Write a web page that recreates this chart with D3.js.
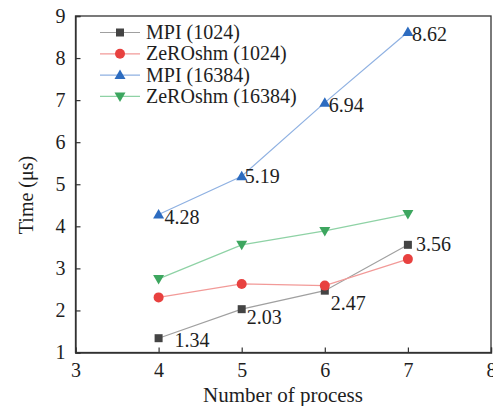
<!DOCTYPE html>
<html>
<head>
<meta charset="utf-8">
<script src="https://cdn.jsdelivr.net/npm/d3@7"></script>
<style>
  body { margin: 0; background: #fff; }
  text { font-family: "Liberation Serif", "Times New Roman", serif; fill: #1e1e1e; }
</style>
</head>
<body>
<svg id="chart" width="493" height="406"></svg>
<script>
// data
const processes = [4, 5, 6, 7];
const mpi1024 = [1.34, 2.03, 2.47, 3.56];
const zero1024 = [2.31, 2.63, 2.59, 3.22];
const mpi16384 = [4.28, 5.19, 6.94, 8.62];
const zero16384 = [2.75, 3.56, 3.89, 4.29];
const seriesNames = ['MPI (1024)', 'ZeROshm (1024)', 'MPI (16384)', 'ZeROshm (16384)'];
const xTicks = [3, 4, 5, 6, 7, 8];
const yTicks = [1, 2, 3, 4, 5, 6, 7, 8, 9];

const series = [
    {name: seriesNames[0], values: mpi1024, marker: 'square', color: '#444', line: '#a0a0a0', labels: true},
    {name: seriesNames[1], values: zero1024, marker: 'circle', color: '#e8413f', line: '#f29a98', labels: false},
    {name: seriesNames[2], values: mpi16384, marker: 'triangle', color: '#2d6cc0', line: '#8fb1e2', labels: true},
    {name: seriesNames[3], values: zero16384, marker: 'triangleDown', color: '#3da65f', line: '#8ed2a5', labels: false}
];

// label offsets (dx, dy) relative to each point, for the labelled series
const labelOffsets = {
    'MPI (1024)': [[16, 9], [5, 15], [6, 19], [8, 6]],
    'MPI (16384)': [[6, 9], [3, 7], [4, 9], [4, 9]]
};

const svg = d3.select('#chart');
const margin = {left: 75.5, right: 491, top: 16, bottom: 352.5};

const x = d3.scaleLinear().domain([3, 8]).range([margin.left, margin.right]);
const y = d3.scaleLinear().domain([1, 9]).range([margin.bottom, margin.top]);

// frame
svg.append('rect')
    .attr('x', margin.left).attr('y', margin.top)
    .attr('width', margin.right - margin.left).attr('height', margin.bottom - margin.top)
    .attr('fill', 'none').attr('stroke', '#333').attr('stroke-width', 1.3);

// axes, ticks pointing inside
const xAxis = d3.axisBottom(x).tickValues(xTicks).tickSize(-5).tickPadding(10).tickFormat(d3.format('d'));
const yAxis = d3.axisLeft(y).tickValues(yTicks).tickSize(-5).tickPadding(10).tickFormat(d3.format('d'));

const xg = svg.append('g').attr('transform', `translate(0,${margin.bottom})`).call(xAxis);
const yg = svg.append('g').attr('transform', `translate(${margin.left},0)`).call(yAxis);

[xg, yg].forEach(g => {
    g.select('.domain').attr('stroke', '#333').attr('stroke-width', 1.3);
    g.selectAll('.tick line').attr('stroke', '#333').attr('stroke-width', 1.2);
    g.selectAll('.tick text')
        .style('font-family', '"Liberation Serif", serif')
        .style('font-size', '20px')
        .attr('fill', '#1e1e1e');
});
xg.selectAll('.tick text').attr('dy', '0.71em').attr('y', 10);

// axis titles
svg.append('text')
    .attr('x', 283).attr('y', 402)
    .attr('text-anchor', 'middle')
    .style('font-size', '21px')
    .text('Number of process');

svg.append('text')
    .attr('transform', 'translate(33,195) rotate(-90)')
    .attr('text-anchor', 'middle')
    .style('font-size', '20px')
    .text('Time (μs)');

// markers
function drawMarker(g, type, color, cx, cy) {
    if (type === 'square') {
        g.append('rect').attr('x', cx - 4).attr('y', cy - 4).attr('width', 8).attr('height', 8).attr('fill', color);
    } else if (type === 'circle') {
        g.append('circle').attr('cx', cx).attr('cy', cy).attr('r', 5).attr('fill', color);
    } else if (type === 'triangle') {
        g.append('path').attr('d', `M${cx},${cy - 5.5}L${cx + 5.5},${cy + 4}L${cx - 5.5},${cy + 4}Z`).attr('fill', color);
    } else {
        g.append('path').attr('d', `M${cx},${cy + 5.5}L${cx + 5.5},${cy - 4}L${cx - 5.5},${cy - 4}Z`).attr('fill', color);
    }
}

const line = d3.line()
    .x((d, i) => x(processes[i]))
    .y(d => y(d));

series.forEach(s => {
    const g = svg.append('g');
    g.append('path')
        .datum(s.values)
        .attr('d', line)
        .attr('fill', 'none')
        .attr('stroke', s.line)
        .attr('stroke-width', 1.2);
    s.values.forEach((v, i) => drawMarker(g, s.marker, s.color, x(processes[i]), y(v)));
    if (s.labels) {
        s.values.forEach((v, i) => {
            const off = labelOffsets[s.name][i];
            g.append('text')
                .attr('x', x(processes[i]) + off[0])
                .attr('y', y(v) + off[1])
                .style('font-size', '20px')
                .text(v.toFixed(2));
        });
    }
});

// legend
const legend = svg.append('g');
series.forEach((s, i) => {
    const ly = 32.5 + i * 21.3;
    legend.append('line')
        .attr('x1', 100).attr('x2', 140)
        .attr('y1', ly).attr('y2', ly)
        .attr('stroke', s.line).attr('stroke-width', 1.2);
    drawMarker(legend, s.marker, s.color, 120, ly);
    legend.append('text')
        .attr('x', 146).attr('y', ly + 6.5)
        .style('font-size', '20px')
        .text(s.name);
});
</script>
</body>
</html>
